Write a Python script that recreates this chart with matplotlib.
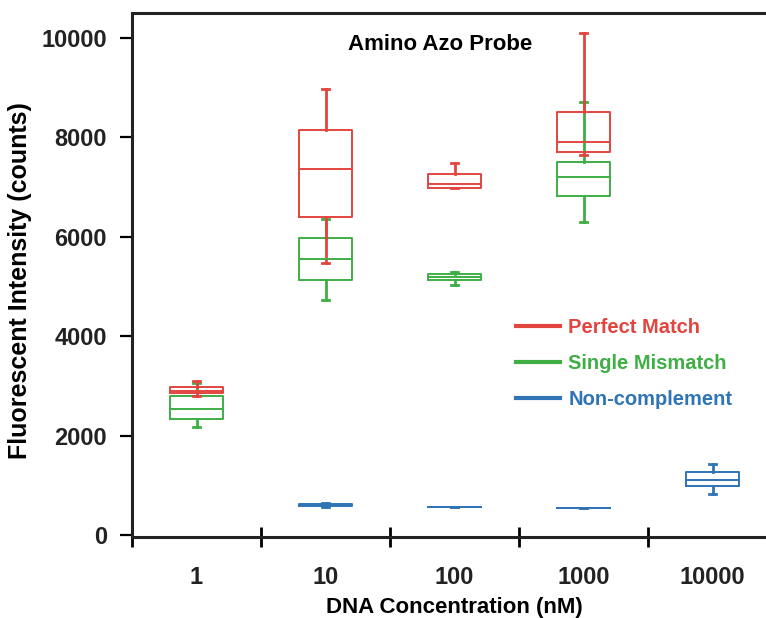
import matplotlib
matplotlib.use("Agg")
import matplotlib.pyplot as plt
from matplotlib.lines import Line2D

plt.rcParams['font.family'] = ['Liberation Sans', 'DejaVu Sans']

# DNA concentrations (nM)
concentrations = ["1", "10", "100", "1000", "10000"]

# Box statistics per series: whisker low, Q1, median, Q3, whisker high
# (None where the series has no box at that concentration)
perfect_whislo = [2800, 5480, 6990, 7650, None]
perfect_q1 = [2860, 6400, 6990, 7710, None]
perfect_med = [2890, 7360, 7060, 7910, None]
perfect_q3 = [2980, 8150, 7260, 8510, None]
perfect_whishi = [3100, 8970, 7480, 10100, None]

mismatch_whislo = [2170, 4730, 5030, 6300, None]
mismatch_q1 = [2340, 5130, 5120, 6810, None]
mismatch_med = [2540, 5550, 5190, 7200, None]
mismatch_q3 = [2800, 5970, 5250, 7500, None]
mismatch_whishi = [3050, 6350, 5300, 8700, None]

noncomp_whislo = [None, 560, 560, 550, 830]
noncomp_q1 = [None, 580, 560, 550, 980]
noncomp_med = [None, 600, 560, 550, 1100]
noncomp_q3 = [None, 630, 560, 550, 1270]
noncomp_whishi = [None, 650, 560, 550, 1420]

series_names = ["Perfect Match", "Single Mismatch", "Non-complement"]
colors = ["#e2453e", "#3fae45", "#2f74b5"]

fig = plt.figure(figsize=(7.66, 6.18), dpi=100)
ax = fig.add_axes([132 / 766, 1 - 537 / 618, 645 / 766, (537 - 13) / 618])


def stats_for(whislo, q1, med, q3, whishi):
    out, pos = [], []
    for i, (a, b, c, d, e) in enumerate(zip(whislo, q1, med, q3, whishi)):
        if c is None:
            continue
        out.append(dict(whislo=a, q1=b, med=c, q3=d, whishi=e, fliers=[]))
        pos.append(i)
    return out, pos


all_series = [
    (mismatch_whislo, mismatch_q1, mismatch_med, mismatch_q3, mismatch_whishi, colors[1]),
    (perfect_whislo, perfect_q1, perfect_med, perfect_q3, perfect_whishi, colors[0]),
    (noncomp_whislo, noncomp_q1, noncomp_med, noncomp_q3, noncomp_whishi, colors[2]),
]

for wl, q1, md, q3, wh, col in all_series:
    st, pos = stats_for(wl, q1, md, q3, wh)
    lw = 1.4
    ax.bxp(st, positions=pos, widths=0.41, showfliers=False,
           capwidths=0.05,
           boxprops=dict(color=col, linewidth=lw),
           medianprops=dict(color=col, linewidth=lw),
           whiskerprops=dict(color=col, linewidth=2.0),
           capprops=dict(color=col, linewidth=2.0),
           manage_ticks=False)

ax.set_xlim(-0.5, 4.5)
ax.set_ylim(-40, 10500)

ax.set_xticks(range(len(concentrations)))
ax.set_xticklabels(concentrations)
ax.set_xticks([-0.5, 0.5, 1.5, 2.5, 3.5], minor=True)
ax.tick_params(axis='x', which='major', length=0, pad=21)
ax.tick_params(axis='x', which='minor', direction='inout', length=14, width=2)
ax.set_yticks([0, 2000, 4000, 6000, 8000, 10000])
ax.tick_params(axis='y', which='major', direction='out', length=9, width=1.6, pad=9)

for lab in ax.get_xticklabels() + ax.get_yticklabels():
    lab.set_fontsize(17)
    lab.set_fontweight('bold')
    lab.set_color('#222222')

for s in ['left', 'bottom', 'top']:
    ax.spines[s].set_linewidth(2.2)
    ax.spines[s].set_color('#222222')
ax.spines['right'].set_visible(False)

ax.set_xlabel("DNA Concentration (nM)", fontsize=16, fontweight='bold', labelpad=6)
ax.set_ylabel("Fluorescent Intensity (counts)", fontsize=18, fontweight='bold')
ax.yaxis.set_label_coords(-0.155, 0.489)

ax.text(0.477, 0.939, "Amino Azo Probe", transform=ax.transAxes,
        fontsize=16, fontweight='bold', ha='center', va='center')

handles = [Line2D([], [], color=c, linewidth=3) for c in colors]
leg = ax.legend(handles, series_names, loc='upper left',
                bbox_to_anchor=(498 / 766, 1 - 300 / 618),
                bbox_transform=fig.transFigure, frameon=False,
                handlelength=2.2, handletextpad=0.4, labelspacing=0.85,
                prop=dict(size=14.5, weight='bold'), labelcolor='linecolor')

fig.savefig("out.png", dpi=100)
